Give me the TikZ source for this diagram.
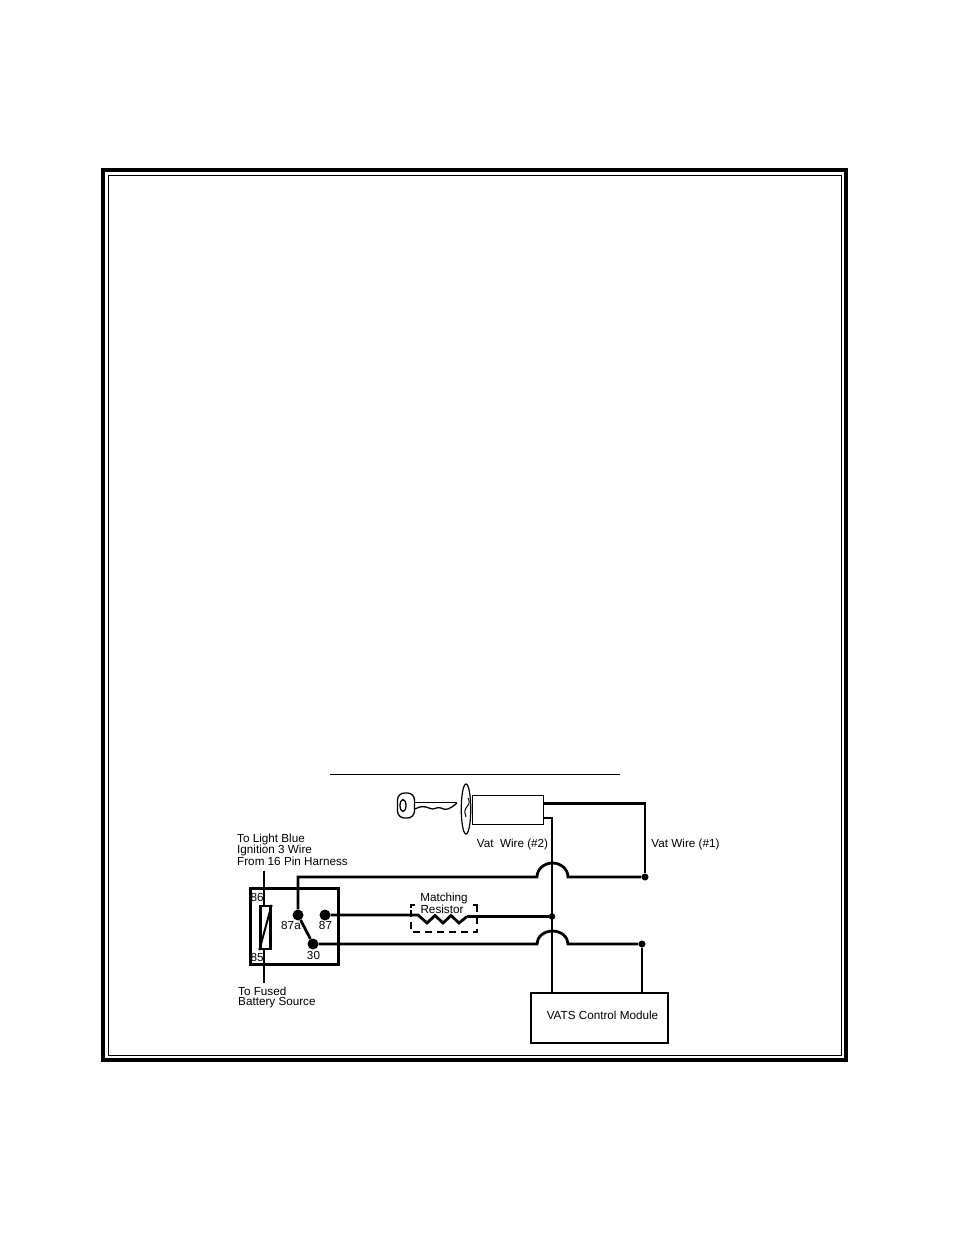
\documentclass[tikz,border=0pt]{standalone}
\usepackage{fontspec}
\setmainfont{Liberation Sans}
\usetikzlibrary{calc,shapes.geometric}
\tikzset{
    wire/.style={line width=2.8pt,line join=miter},
    lbl/.style={inner sep=0pt,font=\fontsize{11.7}{11.7}\selectfont},
    pin/.style={circle,fill=black,inner sep=0pt,minimum size=#1}
}
\begin{document}
\begin{tikzpicture}[x=1pt,y=-1pt]
    \useasboundingbox (0,0) rectangle (954,1235);

    % page frame
    \draw[line width=3.8pt] (102.9,169.9) rectangle (846.1,1060.1);
    \draw[line width=1pt] (108,175) rectangle (841,1055);
    \draw[line width=1pt] (330,774) -- (620,774);

    % key and lock
    \node[draw,line width=1.3pt,rounded corners=7pt,minimum width=17pt,minimum height=25pt,inner sep=0pt] (keyhead) at (406,805.5) {};
    \node[draw,ellipse,line width=1.3pt,minimum width=6pt,minimum height=12pt,inner sep=0pt] (keyhole) at (403,805.5) {};
    \draw[line width=1.3pt] (keyhead.east |- 0,802.5) -- (457,802.5);
    \draw[line width=1.3pt] (keyhead.east |- 0,809) .. controls (420,806) and (424,806) .. (429,808) .. controls (434,811) and (437,806) .. (441,808) .. controls (446,811) and (450,809) .. (457,803);
    \node[draw,ellipse,line width=1.2pt,minimum width=9.5pt,minimum height=50pt,inner sep=0pt] (lockface) at (466,809) {};
    \draw[line width=1pt] (468,798) .. controls (471,803) and (468,805) .. (466,808) .. controls (464,811) and (465,814) .. (466,817);
    \node[draw,line width=1.2pt,minimum width=71pt,minimum height=29pt,inner sep=0pt,anchor=north west] (lock) at (471.5,795) {};

    % relay
    \node[draw,line width=3pt,minimum width=88pt,minimum height=76pt,inner sep=0pt] (relay) at (294.5,926.5) {};
    \coordinate (cointop) at (264,871);
    \coordinate (coinbot) at (264,983);
    \draw[line width=2.4pt] (cointop) -- (coinbot);
    \node[draw,fill=white,line width=2.4pt,minimum width=10pt,minimum height=43pt,inner sep=0pt] (coil) at (265.5,927.5) {};
    \draw[line width=2pt] (coil.south west) -- (coil.north east);
    \node[pin=11pt] (p87a) at (298,915) {};
    \node[pin=11pt] (p87) at (325,915) {};
    \node[pin=11pt] (p30) at (313,944) {};
    \draw[wire] (p87a) -- (p30);

    \node[lbl,anchor=west] at (250.5,897.5) {86};
    \node[lbl,anchor=west] at (250.5,957.5) {85};
    \node[lbl] at (291,925.5) {87a};
    \node[lbl] at (325.5,925.5) {87};
    \node[lbl] at (313.5,955) {30};
    \node[lbl,anchor=west] at (237,839) {To Light Blue};
    \node[lbl,anchor=west] at (237,850) {Ignition 3 Wire};
    \node[lbl,anchor=west] at (237,861) {From 16 Pin Harness};
    \node[lbl,anchor=west] at (238,991.5) {To Fused};
    \node[lbl,anchor=west] at (238,1002.5) {Battery Source};

    % matching resistor
    \coordinate (resL) at (418,915);
    \coordinate (resR) at (467,916.5);
    \draw[line width=1.2pt,dash pattern=on 7pt off 5pt] (477,905) -- (477,932) -- (411,932) -- (411,905);
    \draw[line width=1.2pt] (411,908) -- (411,905) -- (415,905);
    \draw[line width=1.2pt] (473,905) -- (477,905) -- (477,908);
    \node[lbl] at (444,898) {Matching};
    \node[lbl] at (442,909) {Resistor};
    \draw[wire] (p87) -- (resL) -- (427,923) -- (435,915.5) -- (443,923) -- (451,915.5) -- (459,923) -- (resR);

    % module and wires
    \node[draw,line width=1.2pt,minimum width=137pt,minimum height=50pt,inner sep=0pt] (module) at (599.5,1018) {};
    \node[lbl] at (602.5,1015.5) {VATS Control Module};
    \node[pin=7pt] (dotA) at (645,877) {};
    \node[pin=6.5pt] (dotB) at (552,916.5) {};
    \node[pin=7pt] (dotC) at (642,944) {};
    \coordinate (wireA) at (lock.east |- 0,803.5);
    \coordinate (wireB) at (lock.east |- 0,818);
    \coordinate (jumpA) at (537,877);
    \coordinate (jumpB) at (537,944);

    \draw[wire] (wireA) -| (dotA);
    \draw[wire] (wireB) -| (module.north -| dotB);
    \draw[wire] (p87a) |- (jumpA) arc (180:360:15.5 and 14) -- (dotA);
    \draw[wire] (resR) -- (dotB);
    \draw[wire] (p30) -- (jumpB) arc (180:360:15.5 and 13) -- (dotC);
    \draw[wire] (dotC) -- (module.north -| dotC);

    \node[lbl] at (512.5,844) {Vat~ Wire (\#2)};
    \node[lbl] at (685.5,844) {Vat Wire (\#1)};
\end{tikzpicture}
\end{document}
